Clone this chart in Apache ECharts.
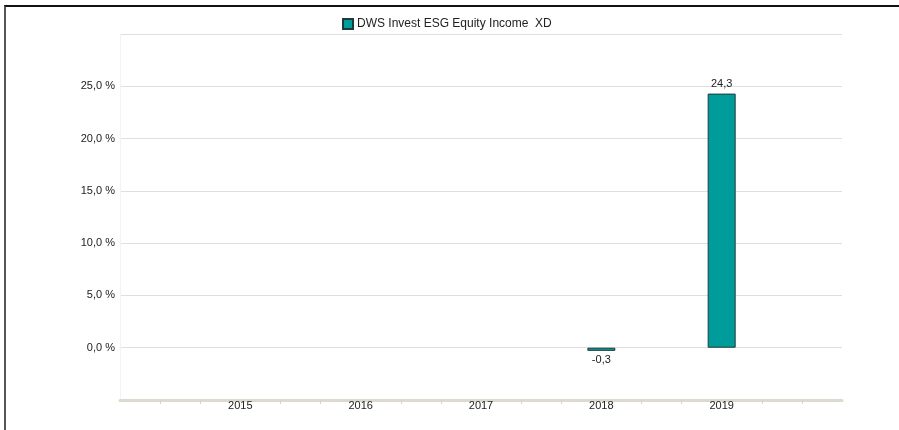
<!DOCTYPE html>
<html>
<head>
<meta charset="utf-8">
<script src="https://cdn.jsdelivr.net/npm/echarts@6/dist/echarts.min.js"></script>
<style>
  html, body {
    margin: 0;
    padding: 0;
    background: #fff;
  }
  .frame {
    position: absolute;
    left: 4px;
    top: 5px;
    width: 895px;
    height: 425px;
    border-top: 2px solid #111;
    border-left: 2px solid #555;
  }
  #chart {
    position: absolute;
    left: 0;
    top: 0;
    width: 899px;
    height: 430px;
  }
</style>
</head>
<body>
<div class="frame"></div>
<div id="chart"></div>
<script>
// Jahre und Wertentwicklung in %
const years = [2015, 2016, 2017, 2018, 2019];
const perf = [null, null, null, -0.3, 24.3];
const seriesName = 'DWS Invest ESG Equity Income  XD';
const yTicks = [-5, 0, 5, 10, 15, 20, 25, 30];

const fmt = (v) => v.toFixed(1).replace('.', ',');

const barData = years.map((y, i) => {
  const v = perf[i];
  if (v === null) return [y, null];
  return {
    value: [y, v],
    label: { position: v < 0 ? 'bottom' : 'top' }
  };
});

const chart = echarts.init(document.getElementById('chart'));

chart.setOption({
  animation: false,
  textStyle: { fontFamily: 'Liberation Sans, Arial, sans-serif' },
  legend: {
    top: 13,
    left: 337,
    icon: 'rect',
    itemWidth: 10,
    itemHeight: 10,
    itemGap: 4,
    textStyle: { fontSize: 12, color: '#222', padding: [0, 0, 0, -1] },
    data: [seriesName]
  },
  grid: {
    left: 120,
    right: 57,
    top: 34,
    bottom: 30
  },
  xAxis: {
    type: 'value',
    min: 2014,
    max: 2020,
    interval: 1,
    axisLine: {
      onZero: false,
      lineStyle: { color: '#ddd9cf', width: 3 }
    },
    axisTick: { show: false },
    minorTick: {
      show: true,
      splitNumber: 3,
      length: 4,
      lineStyle: { color: '#d6d2c8', width: 1 }
    },
    splitLine: { show: false },
    axisLabel: {
      margin: 0,
      fontSize: 11,
      color: '#222',
      formatter: (v) => (years.indexOf(v) >= 0 ? String(v) : '')
    }
  },
  yAxis: {
    type: 'value',
    min: yTicks[0],
    max: yTicks[yTicks.length - 1],
    interval: 5,
    axisLine: {
      show: true,
      lineStyle: { color: '#f3f3f3', width: 1 }
    },
    axisTick: { show: false },
    splitLine: {
      lineStyle: { color: '#e2dfd8', width: 1 }
    },
    axisLabel: {
      margin: 5,
      fontSize: 11,
      color: '#222',
      formatter: (v) => (v === yTicks[0] || v === yTicks[yTicks.length - 1]) ? '' : fmt(v) + ' %'
    }
  },
  series: [{
    name: seriesName,
    type: 'bar',
    barWidth: 28,
    itemStyle: {
      color: '#009b9b',
      borderColor: '#1d3b3b',
      borderWidth: 1
    },
    label: {
      show: true,
      distance: 4,
      fontSize: 11,
      color: '#222',
      formatter: (p) => fmt(p.value[1])
    },
    data: barData
  }]
});
</script>
</body>
</html>
